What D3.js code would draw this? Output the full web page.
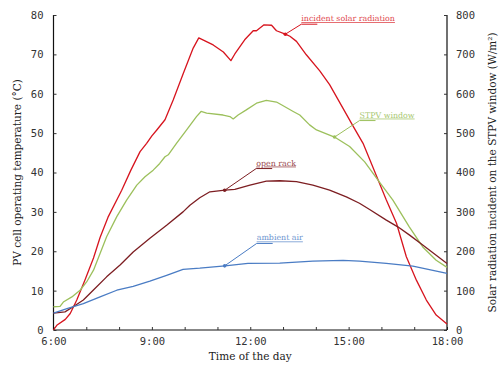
<!DOCTYPE html>
<html>
<head>
<meta charset="utf-8">
<script src="https://cdn.jsdelivr.net/npm/d3@7"></script>
<style>
  body { margin: 0; background: #fff; }
  .tick text { font-family: "DejaVu Sans Mono", monospace; font-size: 10.5px; fill: #333; }
  .title { font-family: "DejaVu Serif", serif; font-size: 10.5px; fill: #222; }
  .note { font-family: "DejaVu Serif", serif; font-size: 7.9px; text-decoration: underline; }
</style>
</head>
<body>
<script>
// Hours of the day (decimal) and values
var solarHours = [6.00, 6.10, 6.36, 6.51, 6.71, 6.96, 7.22, 7.42, 7.66, 8.08, 8.36, 8.64, 8.84, 9.00, 9.15, 9.40, 9.65, 9.96, 10.26, 10.43,
  10.87, 11.18, 11.41, 11.53, 11.83, 12.09, 12.19, 12.42, 12.65, 12.80, 13.05, 13.21, 13.41, 13.71, 14.12, 14.42, 14.83, 15.14,
  15.44, 15.65, 15.90, 16.15, 16.46, 16.76, 17.07, 17.37, 17.67, 18.00];
var solarValues = [0, 12, 27, 42, 76, 127, 183, 235, 286, 355, 406, 453, 474, 493, 508, 534, 584, 652, 716, 742,
  724, 706, 684, 701, 737, 760, 760, 775, 774, 760, 752, 746, 733, 699, 658, 623, 563, 517,
  474, 432, 381, 330, 271, 186, 126, 76, 38, 15];

var stpvHours = [6.00, 6.20, 6.30, 6.56, 6.81, 7.01, 7.22, 7.42, 7.62, 7.93, 8.23, 8.54, 8.79, 9.04, 9.24, 9.40, 9.50, 9.75, 10.06, 10.36,
  10.50, 10.67, 11.17, 11.38, 11.48, 11.63, 11.88, 12.19, 12.49, 12.80, 12.95, 13.31, 13.51, 13.81, 14.02, 14.57, 15.03, 15.49,
  15.89, 16.35, 16.85, 17.26, 17.67, 18.00];
var stpvValues = [5.9, 6.0, 7.1, 8.4, 10.1, 12.2, 15.2, 19.4, 23.7, 28.8, 33.0, 36.8, 38.9, 40.6, 42.3, 44.0, 44.5, 47.4, 50.8, 54.2,
  55.5, 55.1, 54.6, 54.2, 53.6, 54.6, 55.9, 57.6, 58.3, 57.9, 57.2, 55.5, 54.6, 52.1, 50.8, 49.0, 46.6, 42.7,
  38.1, 33.0, 26.2, 21.1, 17.7, 15.9];

var rackHours = [6.00, 6.35, 6.60, 6.91, 7.21, 7.62, 8.03, 8.43, 8.94, 9.45, 9.95, 10.16, 10.46, 10.77, 11.23, 11.53, 11.99, 12.49, 12.90,
  13.41, 13.91, 14.42, 14.93, 15.33, 15.64, 16.15, 16.50, 16.86, 17.26, 17.67, 18.00];
var rackValues = [4.3, 4.6, 5.9, 7.6, 10.1, 13.5, 16.5, 19.8, 23.3, 26.6, 30.0, 31.7, 33.6, 35.1, 35.5, 35.7, 36.8, 37.8, 37.9,
  37.7, 36.8, 35.5, 33.8, 32.2, 30.6, 27.9, 26.2, 24.1, 21.6, 19.0, 16.9];

var airHours = [6.00, 6.41, 6.91, 7.42, 7.93, 8.43, 8.94, 9.45, 9.95, 10.46, 11.23, 11.93, 12.90, 13.91, 14.83, 15.33, 16.15, 16.96, 18.00];
var airValues = [4.3, 5.4, 6.7, 8.4, 10.1, 11.1, 12.4, 13.9, 15.4, 15.7, 16.3, 16.9, 17.0, 17.5, 17.7, 17.5, 16.9, 16.2, 14.4];

// Tick labels
var hourTicks = [6, 9, 12, 15, 18];
var tempTicks = [0, 10, 20, 30, 40, 50, 60, 70, 80];
var radTicks = [0, 100, 200, 300, 400, 500, 600, 700, 800];

// Annotation labels and where they point to
var noteLabels = ["incident solar radiation", "STPV window", "open rack", "ambient air"];
var noteHours = [13.07, 14.57, 11.22, 11.22];

// Graph dimensions
var margin = {top: 15, right: 57, bottom: 35, left: 53.5},
  width = 504 - margin.left - margin.right,
  height = 365 - margin.top - margin.bottom;

var x = d3.scaleLinear().domain([6, 18]).range([0, width]);
var yL = d3.scaleLinear().domain([0, 80]).range([height, 0]);
var yR = d3.scaleLinear().domain([0, 800]).range([height, 0]);

var svg = d3.select('body').append('svg')
  .attr('width', 504)
  .attr('height', 365);
var chart = svg.append('g')
  .attr('transform', 'translate(' + margin.left + ',' + margin.top + ')');

// Axes, ticks point inwards
var xAxis = d3.axisBottom(x)
  .tickValues(d3.range(6, 19, 1))
  .tickSize(-3)
  .tickPadding(8)
  .tickFormat(function(d) { return hourTicks.indexOf(d) >= 0 ? d + ':00' : ''; });
var yAxisL = d3.axisLeft(yL).tickValues(tempTicks).tickSize(-3).tickPadding(10);
var yAxisR = d3.axisRight(yR).tickValues(radTicks).tickSize(-3).tickPadding(9);

function styleAxis(g) {
  g.select('.domain').attr('stroke', '#111').attr('stroke-width', 1.2);
  g.selectAll('.tick line').attr('stroke', '#333');
}

chart.append('g')
  .attr('transform', 'translate(0,' + height + ')')
  .call(xAxis).call(styleAxis)
  .call(function(g) { g.select('.domain').attr('d', 'M0,0H' + width); });
chart.append('g').call(yAxisL).call(styleAxis)
  .call(function(g) { g.select('.domain').attr('d', 'M0,0V' + height); });
chart.append('g')
  .attr('transform', 'translate(' + width + ',0)')
  .call(yAxisR).call(styleAxis)
  .call(function(g) { g.select('.domain').attr('d', 'M0,0V' + height); });

// Axis titles
svg.append('text').attr('class', 'title')
  .attr('x', margin.left + width / 2).attr('y', 360)
  .attr('text-anchor', 'middle')
  .text('Time of the day');
svg.append('text').attr('class', 'title')
  .attr('transform', 'translate(21,' + (margin.top + height / 2) + ') rotate(-90)')
  .attr('text-anchor', 'middle')
  .text('PV cell operating temperature (°C)');
svg.append('text').attr('class', 'title')
  .attr('transform', 'translate(496,' + (margin.top + height / 2) + ') rotate(-90)')
  .attr('text-anchor', 'middle')
  .text('Solar radiation incident on the STPV window (W/m²)');

// Series
var series = [
  {hours: solarHours, values: solarValues, y: yR, color: '#d7141e'},
  {hours: stpvHours, values: stpvValues, y: yL, color: '#9cc05c'},
  {hours: rackHours, values: rackValues, y: yL, color: '#7d1e22'},
  {hours: airHours, values: airValues, y: yL, color: '#4a7cc4'}
];
var noteColors = ['#e0464c', '#a8c872', '#9a4a4e', '#6d95d0'];
var noteOffsets = [[16, -10], [25, -16.5], [31.5, -21.7], [32, -22.4]];

series.forEach(function(s) {
  var pts = s.hours.map(function(h, i) { return [h, s.values[i]]; });
  var line = d3.line()
    .x(function(d) { return x(d[0]); })
    .y(function(d) { return s.y(d[1]); });
  chart.append('path')
    .datum(pts)
    .attr('fill', 'none')
    .attr('stroke', s.color)
    .attr('stroke-width', 1.3)
    .attr('stroke-linejoin', 'round')
    .attr('d', line);
});

// Value of a series at a given hour, by linear interpolation
function valueAt(s, h) {
  var i = d3.bisectLeft(s.hours, h);
  if (i <= 0) return s.values[0];
  var h0 = s.hours[i - 1], h1 = s.hours[i];
  var t = (h - h0) / (h1 - h0);
  return s.values[i - 1] + t * (s.values[i] - s.values[i - 1]);
}

// Annotations
noteLabels.forEach(function(label, i) {
  var s = series[i];
  var px = x(noteHours[i]), py = s.y(valueAt(s, noteHours[i]));
  var ex = px + noteOffsets[i][0], ey = py + noteOffsets[i][1];
  chart.append('path')
    .attr('fill', 'none')
    .attr('stroke', s.color)
    .attr('stroke-width', 1)
    .attr('d', 'M' + px + ',' + py + 'L' + ex + ',' + ey + 'H' + (ex + 16));
  chart.append('circle')
    .attr('cx', px).attr('cy', py).attr('r', 1.8)
    .attr('fill', s.color);
  chart.append('text')
    .attr('class', 'note')
    .attr('x', ex).attr('y', ey - 3)
    .attr('fill', noteColors[i])
    .text(label);
});
</script>
</body>
</html>
